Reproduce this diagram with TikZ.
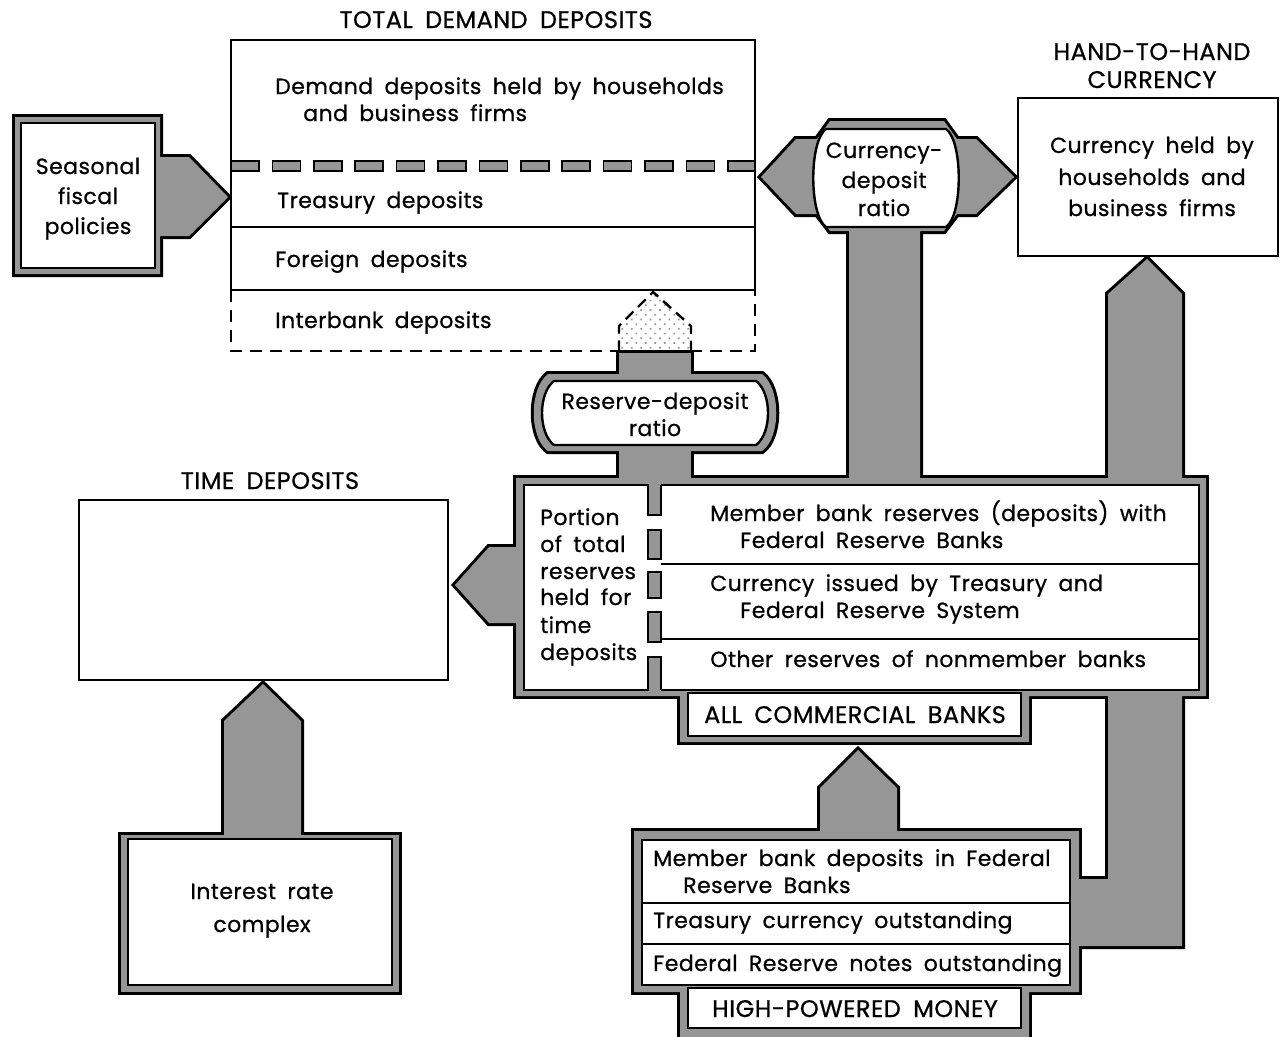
\documentclass[tikz,border=0pt]{standalone}
\usepackage{fontspec}
\setmainfont{Poppins}[LetterSpace=2, WordSpace=1.8, FakeBold=0.7]
\usetikzlibrary{patterns.meta}
\definecolor{fg}{RGB}{150,150,150}
\tikzset{
 tx/.style={inner sep=0pt, font=\fontsize{16.5}{19}\selectfont},
 tl/.style={tx, anchor=base west},
 tc/.style={tx, anchor=base},
 tcap/.style={inner sep=0pt, anchor=base, font=\fontsize{18}{21}\selectfont},
 plainbox/.style={draw=black, line width=1.9pt, fill=white},
 thinl/.style={line width=1.4pt},
 grayout/.style={draw=black, line width=4.5pt, line join=miter},
 whitein/.style={draw=black, line width=1.8pt, fill=white},
}
\begin{document}
\begin{tikzpicture}[x=0.75pt,y=-0.75pt]
\useasboundingbox (0,0) rectangle (1280,1036);
\fill[white] (0,0) rectangle (1280,1036);
% ---------- gray shapes ----------
\def\sA{(15,117) -- (160,117) -- (160,157) -- (189,157) -- (228,197) -- (189,236) -- (160,236) -- (160,274) -- (15,274) -- cycle}
\def\sB{(761,177) -- (796,139) -- (817,139) -- (830,121) -- (944,121) -- (957,139) -- (976,139) -- (1014,177) -- (976,214) -- (957,214) -- (944,231) -- (920,231) -- (920,480) -- (849,480) -- (849,231) -- (830,231) -- (817,214) -- (796,214) -- cycle}
\def\sC{(1108,480) -- (1108,294) -- (1147,259) -- (1182,294) -- (1182,946) -- (1075,946) -- (1075,879) -- (1108,879) -- cycle}
\def\sD{(619,353) -- (691,353) -- (691,480) -- (619,480) -- cycle}
\def\sE{(548,374) -- (762,374) .. controls (781,388) and (781,438) .. (762,451) -- (548,451) .. controls (529,438) and (529,388) .. (548,374) -- cycle}
\def\sF{(516,478) -- (1206,478) -- (1206,696) -- (1029,696) -- (1029,742) -- (680,742) -- (680,696) -- (516,696) -- cycle}
\def\sG{(520,547) -- (489,547) -- (455,585) -- (489,623) -- (520,623) -- cycle}
\def\sH{(820,835) -- (820,788) -- (858,750) -- (897,788) -- (897,835) -- cycle}
\def\sI{(634,831) -- (1079,831) -- (1079,992) -- (1029,992) -- (1029,1050) -- (680,1050) -- (680,992) -- (634,992) -- cycle}
\def\sJ{(224,835) -- (224,721) -- (263,684) -- (301,721) -- (301,835) -- cycle}
\def\sK{(121,835) -- (399,835) -- (399,992) -- (121,992) -- cycle}
\draw[grayout] \sA; \draw[grayout] \sB; \draw[grayout] \sC; \draw[grayout] \sD;
\draw[grayout] \sE; \draw[grayout] \sF; \draw[grayout] \sG; \draw[grayout] \sH;
\draw[grayout] \sI; \draw[grayout] \sJ; \draw[grayout] \sK;
\fill[fg] \sA; \fill[fg] \sB; \fill[fg] \sC; \fill[fg] \sD; \fill[fg] \sE;
\fill[fg] \sF; \fill[fg] \sG; \fill[fg] \sH; \fill[fg] \sI; \fill[fg] \sJ; \fill[fg] \sK;
% ---------- white inner shapes ----------
\draw[whitein] (21,123) rectangle (155,268);
\draw[whitein] (826,129) -- (946,129) .. controls (963,141) and (963,215) .. (946,227) -- (826,227) .. controls (809,215) and (809,141) .. (826,129) -- cycle;
\draw[whitein] (554,381) -- (756,381) .. controls (772,393) and (772,433) .. (756,445) -- (554,445) .. controls (538,433) and (538,393) .. (554,381) -- cycle;
\draw[whitein] (524,485) rectangle (1199,690);
\draw[whitein] (688,693) rectangle (1021,736);
\draw[whitein] (642,840) rectangle (1070,985);
\draw[whitein] (688,988) rectangle (1021,1028);
\draw[whitein] (128,839) rectangle (392,985);
% commercial banks inner details
\fill[fg] (648.5,481) rectangle (660.5,515);
\draw[thinl] (648,485) -- (648,515) -- (661,515) -- (661,485);
\draw[thinl, fill=fg] (648,530) rectangle (661,559);
\draw[thinl, fill=fg] (648,572) rectangle (661,598);
\draw[thinl, fill=fg] (648,612) rectangle (661,642);
\fill[fg] (648.5,657) rectangle (660.5,694);
\draw[thinl] (648,690) -- (648,657) -- (661,657) -- (661,690);
\draw[thinl] (661,564) -- (1199,564);
\draw[thinl] (661,639) -- (1199,639);
% HPM dividers
\draw[thinl] (642,903) -- (1070,903);
\draw[thinl] (642,944) -- (1070,944);
% ---------- plain boxes ----------
\draw[plainbox] (231,40) rectangle (755,290);
\draw[thinl] (231,227) -- (755,227);
\foreach \i in {0,...,11} \draw[line width=1.3pt, fill=fg] ({231+41.4*\i},161) rectangle ({231+41.4*\i+28},171);
\draw[line width=1.3pt, fill=fg] (727.8,161) rectangle (755,171);
\draw[line width=1.9pt, dash pattern=on 9pt off 6pt] (231,290) -- (231,351) -- (755,351) -- (755,290);
\draw[line width=1.8pt, dash pattern=on 8pt off 5pt, pattern={Dots[distance=5pt,radius=0.9pt,angle=45]}, pattern color=fg] (619,351) -- (619,326) -- (653,292) -- (691,326) -- (691,351);
\draw[plainbox] (79,500) rectangle (448,680);
\draw[plainbox] (1018,98) rectangle (1278,256);
% ---------- texts ----------
\node[tcap] (tdd) at (496,28) {TOTAL DEMAND DEPOSITS};
\node[tl] (d1) at (275,94) {Demand deposits held by households};
\node[tl] (d2) at (303,121) {and business firms};
\node[tl] (d3) at (277,208) {Treasury deposits};
\node[tl] (d4) at (275,267) {Foreign deposits};
\node[tl] (d5) at (275,328) {Interbank deposits};
\node[tc] (s1) at (88,174) {Seasonal};
\node[tc] (s2) at (88,204) {fiscal};
\node[tc] (s3) at (88,234) {policies};
\node[tcap] (h1) at (1152,60) {HAND-TO-HAND};
\node[tcap] (h2) at (1152,88) {CURRENCY};
\node[tc] (c1) at (1152,153) {Currency held by};
\node[tc] (c2) at (1152,185) {households and};
\node[tc] (c3) at (1152,216) {business firms};
\node[tc] (r1) at (884,158) {Currency-};
\node[tc] (r2) at (884,188) {deposit};
\node[tc] (r3) at (884,216) {ratio};
\node[tc] (q1) at (655,409) {Reserve-deposit};
\node[tc] (q2) at (655,436) {ratio};
\node[tcap] (td) at (270,489) {TIME DEPOSITS};
\node[tl] (p1) at (540,525) {Portion};
\node[tl] (p2) at (540,552) {of total};
\node[tl] (p3) at (540,579) {reserves};
\node[tl] (p4) at (540,605) {held for};
\node[tl] (p5) at (540,633) {time};
\node[tl] (p6) at (540,660) {deposits};
\node[tl] (m1) at (710,521) {Member bank reserves (deposits) with};
\node[tl] (m2) at (740,548) {Federal Reserve Banks};
\node[tl] (m3) at (710,591) {Currency issued by Treasury and};
\node[tl] (m4) at (740,618) {Federal Reserve System};
\node[tl] (m5) at (710,667) {Other reserves of nonmember banks};
\node[tcap] (acb) at (855,723) {ALL COMMERCIAL BANKS};
\node[tl] (k1) at (653,866) {Member bank deposits in Federal};
\node[tl] (k2) at (683,893) {Reserve Banks};
\node[tl] (k3) at (653,928) {Treasury currency outstanding};
\node[tl] (k4) at (653,971) {Federal Reserve notes outstanding};
\node[tcap] (hpm) at (855,1017) {HIGH-POWERED MONEY};
\node[tc] (i1) at (262,899) {Interest rate};
\node[tc] (i2) at (262,932) {complex};
\end{tikzpicture}
\end{document}
